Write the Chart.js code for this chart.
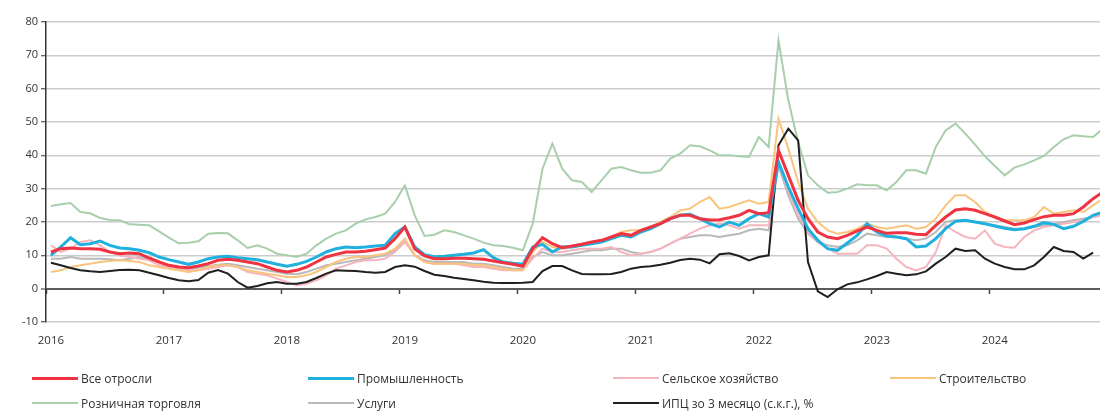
<!DOCTYPE html>
<html lang="ru">
<head>
<meta charset="utf-8">
<title>Рост зарплат по отраслям</title>
<script src="https://cdn.jsdelivr.net/npm/chart.js@4.4.1/dist/chart.umd.min.js"></script>
<style>
  html, body { margin: 0; padding: 0; background: #fff; overflow: hidden; }
  #wrap { position: relative; width: 1100px; height: 412px; }
  #chartBox { position: absolute; left: 0; top: 0; width: 1100px; height: 356px; }
  #legend { position: absolute; left: 0; top: 0; width: 1100px; height: 412px; pointer-events: none;
            font: 12px "Open Sans", sans-serif; color: #333; }
  .item { position: absolute; height: 16px; display: flex; align-items: center; white-space: nowrap; }
  .swatch { width: 46px; margin-right: 3px; }
</style>
</head>
<body>
<div id="wrap">
  <div id="chartBox"><canvas id="chart"></canvas></div>
  <div id="legend"></div>
</div>
<script>
// monthly data, Jan 2016 .. Dec 2024
const yearLabels = ['2016', '2017', '2018', '2019', '2020', '2021', '2022', '2023', '2024'];

const allSectors = [
  11, 12, 12.2, 12, 12, 11.8, 11, 10.5, 10.7, 10.5, 9.2, 8,
  7, 6.5, 6.3, 6.8, 7.5, 8.5, 8.8, 8.5, 8, 7.5, 6.5, 5.5,
  5, 5.5, 6.5, 8, 9.5, 10.3, 11, 11, 11.2, 11.7, 12.2, 15,
  18.5, 12, 9.8, 9, 9, 9.1, 9.1, 9, 8.8, 8.3, 7.8, 7.3,
  6.7, 12, 15.3, 13.5, 12.3, 12.8, 13.3, 14, 14.5, 15.5, 16.5, 16,
  17.5, 18.5, 19.5, 21, 22, 22, 21, 20.6, 20.7, 21.3, 22, 23.5,
  22.5, 22.8, 41.5, 34, 26.5, 21, 17, 15.5, 15, 16, 17.3, 18.5,
  17.5, 16.6, 16.8, 16.8, 16.3, 16.2, 19, 21.5, 23.6, 24, 23.5, 22.5,
  21.5, 20.3, 19.2, 19.7, 20.7, 21.6, 22, 22, 22.5, 24.5, 27, 29
];
const industry = [
  10, 12.5, 15.3, 13.2, 13.5, 14.3, 13, 12.2, 12, 11.5, 10.8, 9.5,
  8.7, 8, 7.3, 8, 9, 9.5, 9.7, 9.3, 9, 8.7, 8, 7.3,
  6.7, 7.3, 8.2, 9.5, 11, 12, 12.5, 12.3, 12.5, 12.8, 13, 16.5,
  18.5, 12.5, 10.2, 9.6, 9.7, 10, 10.3, 10.7, 11.7, 9.3, 8, 7.6,
  7.3, 12.5, 13.3, 11, 12.6, 12.5, 13, 13.5, 14, 15, 16, 15.5,
  17, 18, 19.5, 21, 22, 22.3, 21, 19.5, 18.5, 20, 19, 21,
  22.5, 21.5, 38, 30.5, 24, 18, 14.5, 12, 11.5, 13.7, 16, 19.5,
  17, 15.8, 15.5, 15, 12.5, 12.8, 15, 18, 20.2, 20.5, 20, 19.5,
  18.8, 18.1, 17.7, 18, 18.7, 19.8, 19.3, 18, 18.7, 20.2, 22, 23
];
const agriculture = [
  13, 11, 12, 14, 14.5, 13, 11, 10, 9.5, 9, 8.5, 7,
  6.5, 6, 5.5, 5.5, 6, 6.5, 7, 6.5, 5, 4.5, 4, 3,
  2, 1, 1.5, 2.5, 4, 6, 7, 8, 8.5, 8.5, 9, 11,
  14, 10, 8, 7.5, 7.5, 7.5, 7, 6.5, 6.5, 6, 5.5, 5.5,
  5.5, 9, 12, 11, 11, 11.5, 12, 12, 12, 12.5, 11, 10,
  10.5, 11, 12, 13.5, 15, 16.5, 18, 19, 19.5, 19, 18, 19,
  19, 19, 38, 29, 22, 17, 14, 12, 10.5, 10.5, 10.5, 13,
  13, 12, 9, 6.5, 5.5, 6.5, 11, 19, 17, 15.5, 15, 17.5,
  13.5, 12.5, 12.3, 15.5, 17.5, 18.5, 19, 19.5, 20, 20.5, 21.5, 22
];
const construction = [
  5, 5.5, 6.5, 7, 7.5, 8, 8.3, 8.5, 8.3, 8, 7, 6.5,
  6, 5.5, 5, 5.5, 6.5, 7, 7, 6.5, 5.5, 5, 4.5, 4,
  3.5, 3.5, 4, 5, 6.5, 8, 9, 9.5, 9.5, 10, 10.5, 12,
  15, 10, 8, 7.5, 7.5, 7.5, 7.5, 7, 7, 6.5, 6, 5.5,
  5.5, 11, 14, 12.5, 12, 12.5, 13, 14, 14.5, 15.5, 17, 17.5,
  17.5, 18.5, 20, 21.5, 23.5, 24, 26, 27.5, 24, 24.5, 25.5, 26.5,
  25.5, 26, 51, 42, 32, 24, 20, 17.5, 16.5, 17, 18, 19.5,
  18.5, 18, 18.5, 19, 18, 18.5, 21, 25, 28, 28, 26, 23,
  21.5, 20.5, 20.5, 20.5, 21.5, 24.5, 22.5, 23, 23.5, 23, 25, 27
];
const retail = [
  24.8, 25.3, 25.7, 23, 22.6, 21.2, 20.6, 20.5, 19.3, 19.2, 19, 17.2,
  15.3, 13.6, 13.8, 14.2, 16.5, 16.7, 16.6, 14.5, 12.2, 13, 12, 10.5,
  10, 9.5, 10.5, 13, 15, 16.5, 17.5, 19.5, 20.8, 21.5, 22.5, 26,
  31, 22, 15.8, 16.2, 17.5, 17, 16, 15, 13.8, 13, 12.8, 12.3,
  11.5, 19.5, 36, 43.5, 36, 32.5, 32, 29, 32.5, 36, 36.5, 35.5,
  34.8, 34.8, 35.5, 39, 40.5, 43, 42.7, 41.5, 40, 40, 39.7, 39.5,
  45.5, 42.5, 74.5, 56.5, 44, 34, 31, 28.8, 29, 30, 31.3, 31,
  31, 29.5, 32, 35.5, 35.5, 34.5, 42.5, 47.5, 49.5, 46.5, 43.2, 39.7,
  36.8, 34, 36.3, 37.3, 38.5, 39.8, 42.5, 44.8, 46, 45.7, 45.5, 48
];
const services = [
  9, 9, 9.5, 9, 9, 9, 8.8, 8.5, 9, 9.5, 9, 8,
  7, 6.5, 6, 6.3, 6.8, 7.2, 7.5, 7, 6.5, 6, 5.5, 5,
  4.5, 4.3, 5, 6, 7, 7.5, 8, 8.5, 9, 9.5, 10, 11.5,
  14.5, 10, 8.5, 8, 8, 8, 8, 7.5, 7.5, 7, 6.5, 6,
  6, 9.5, 11, 10, 10, 10.5, 11, 11.5, 11.5, 12, 12, 11,
  10.5, 11, 12, 13.5, 15, 15.5, 16, 16, 15.5, 16, 16.5, 17.5,
  18, 17.5, 37, 28, 21, 16.5, 14, 13, 12.5, 13, 14.5, 16.5,
  16, 15.5, 15.5, 15, 14.5, 15, 17, 20, 20.5, 20.5, 20, 19.5,
  19, 18.5, 18, 18, 18.5, 19, 19.5, 20, 20.5, 21, 21.5, 22
];
const cpi3m = [
  7.8, 7, 6.2, 5.5, 5.2, 5, 5.3, 5.6, 5.7, 5.5, 4.8, 4,
  3.2, 2.5, 2.2, 2.6, 4.8, 5.6, 4.5, 2, 0.3, 0.8, 1.6, 2,
  1.5, 1.5, 2, 3.2, 4.5, 5.5, 5.4, 5.3, 5, 4.8, 5, 6.5,
  7, 6.6, 5.3, 4.2, 3.8, 3.3, 2.9, 2.5, 2.1, 1.8, 1.7, 1.7,
  1.8, 2, 5.3, 6.8, 6.8, 5.5, 4.4, 4.3, 4.3, 4.4, 5, 6,
  6.5, 6.7, 7.2, 7.8, 8.6, 9, 8.7, 7.6, 10.3, 10.6, 9.8, 8.5,
  9.5, 10, 43, 48, 44.5, 8, -0.8, -2.5, -0.2, 1.3, 1.9, 2.8,
  3.8, 5, 4.5, 4, 4.3, 5.2, 7.5, 9.5, 12, 11.3, 11.5, 9,
  7.5, 6.5, 5.8, 5.8, 7, 9.5, 12.5, 11.3, 11, 9, 10.8, null
];

const Y_MIN = -10, Y_MAX = 80, Y_STEP = 10;
const X_MAX = 107.2; // months shown (right edge is cut a bit before Jan 2025)

// points sit mid-month, year ticks sit on month boundaries
const toPoints = values => values.map((v, i) => ({ x: i + 0.5, y: v }));

function line(label, values, color, width, order) {
  return {
    label, data: toPoints(values), borderColor: color, backgroundColor: color,
    borderWidth: width, pointRadius: 0, tension: 0, order
  };
}

const datasets = [
  line('Все отросли', allSectors, '#ef3340', 3, 0),
  line('Промышленность', industry, '#1fb0de', 3, 1),
  line('Сельское хозяйство', agriculture, '#f6b5be', 2, 4),
  line('Строительство', construction, '#f9c47c', 2, 3),
  line('Розничная торговля', retail, '#a7cfac', 2, 6),
  line('Услуги', services, '#b9b9b9', 2, 5),
  line('ИПЦ зо 3 месяцо (с.к.г.), %', cpi3m, '#1f1f1f', 2, 2)
];

const tickFont = { family: '"Open Sans", sans-serif', size: 11 };

const chart = new Chart(document.getElementById('chart'), {
  type: 'line',
  data: { datasets },
  options: {
    responsive: true,
    maintainAspectRatio: false,
    animation: false,
    events: [],
    layout: { padding: { top: 22, right: 0, bottom: 0, left: 0 } },
    plugins: { legend: { display: false }, tooltip: { enabled: false } },
    scales: {
      x: {
        type: 'linear', min: 0, max: X_MAX,
        afterBuildTicks: scale => { scale.ticks = yearLabels.map((_, k) => ({ value: k * 12 + 0.5 })); },
        afterFit: scale => { scale.height = 34; },
        grid: { display: false, drawTicks: false },
        border: { display: false },
        ticks: { font: { ...tickFont, size: 11.5 }, color: '#333', padding: 12, maxRotation: 0,
                 callback: (v, i) => yearLabels[i] }
      },
      // zero line axis: only the year tick marks
      x0: {
        type: 'linear', min: 0, max: X_MAX, position: { y: 0 },
        afterBuildTicks: scale => { scale.ticks = yearLabels.map((_, k) => ({ value: k * 12 })); },
        grid: { display: true, drawOnChartArea: false, drawTicks: true, tickLength: 5, tickColor: '#444', tickWidth: 1.5 },
        border: { display: false },
        ticks: { display: false }
      },
      y: {
        min: Y_MIN, max: Y_MAX,
        afterFit: scale => { scale.width = 46; },
        ticks: { stepSize: Y_STEP, font: tickFont, color: '#333', padding: 3 },
        grid: {
          color: c => (c.tick && c.tick.value === 0) ? '#5a5a5a' : '#cccccc',
          lineWidth: c => (c.tick && c.tick.value === 0) ? 2 : 1.5,
          tickColor: '#333', tickLength: 5, tickWidth: 1
        },
        border: { display: true, color: '#333', width: 1.5 }
      }
    }
  }
});

// html legend, four columns, two rows
const legendCols = [32, 308, 613, 890];
const legendRows = [370, 395];
const legendBox = document.getElementById('legend');
chart.data.datasets.forEach((ds, i) => {
  const item = document.createElement('div');
  item.className = 'item';
  item.style.left = legendCols[i % 4] + 'px';
  item.style.top = legendRows[Math.floor(i / 4)] + 'px';
  const sw = document.createElement('span');
  sw.className = 'swatch';
  sw.style.borderTop = ds.borderWidth + 'px solid ' + ds.borderColor;
  const txt = document.createElement('span');
  txt.textContent = ds.label;
  item.appendChild(sw);
  item.appendChild(txt);
  legendBox.appendChild(item);
});
</script>
</body>
</html>
